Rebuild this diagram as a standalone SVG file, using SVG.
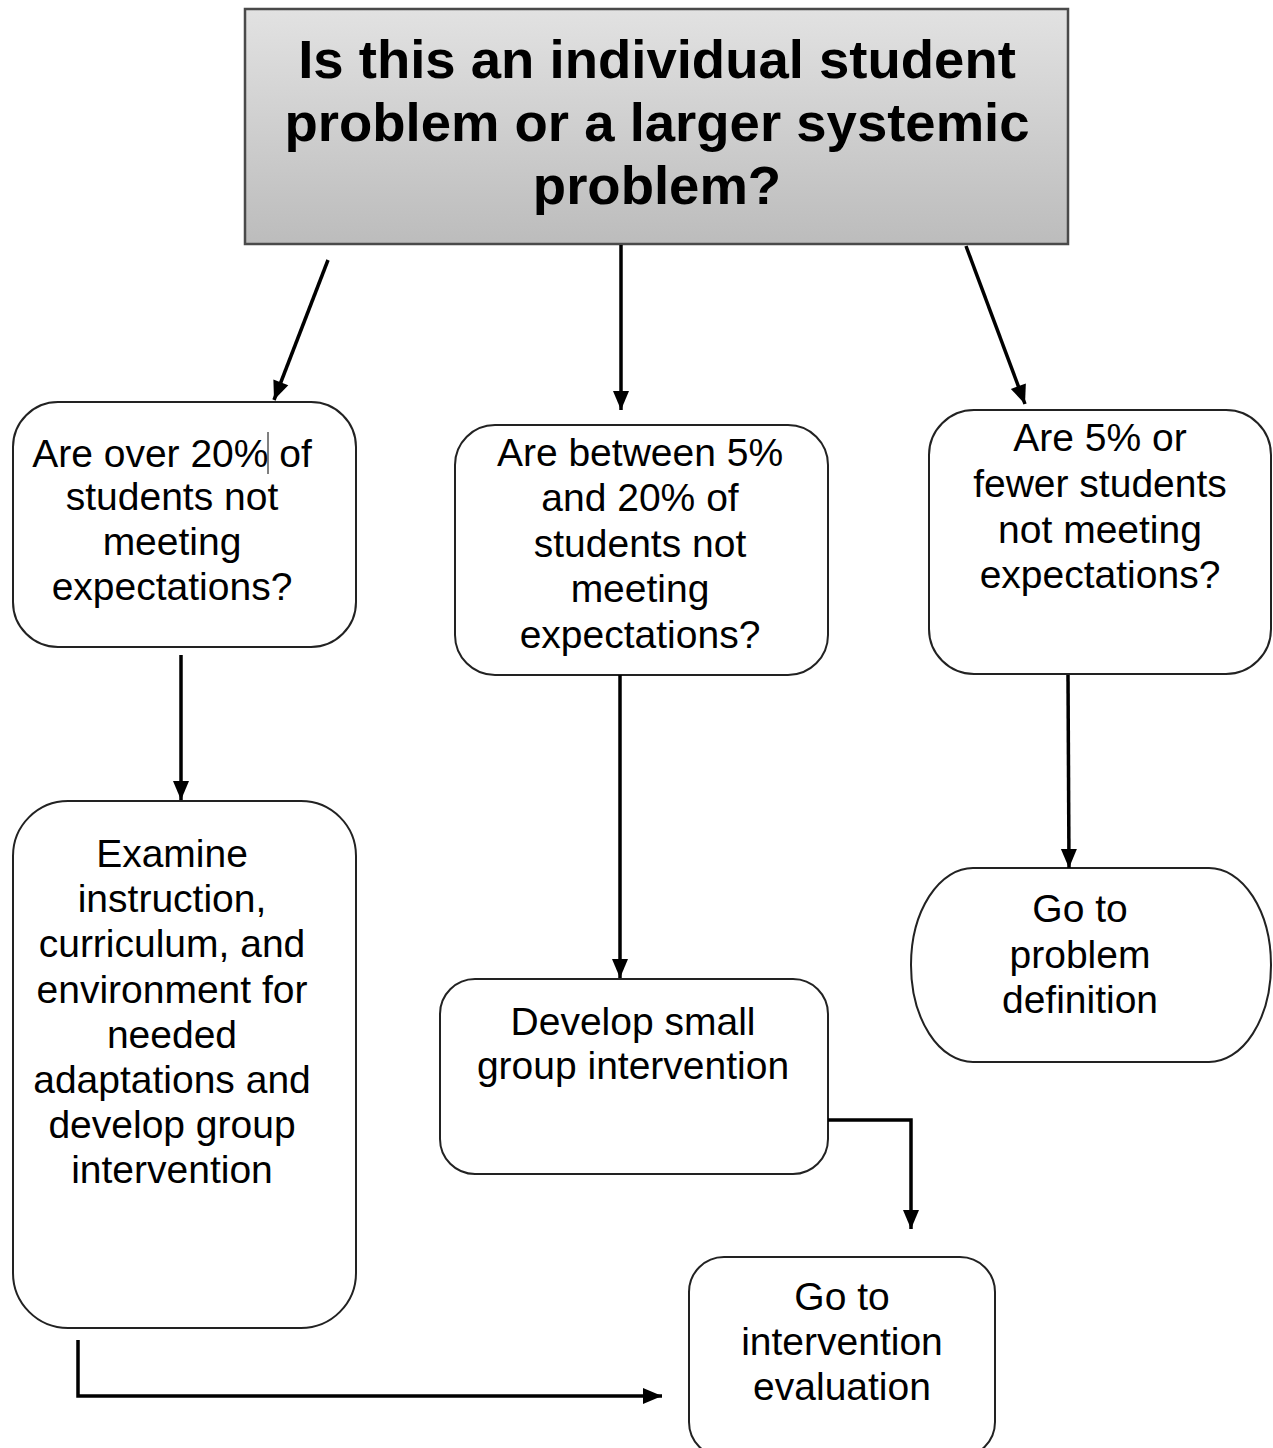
<svg xmlns="http://www.w3.org/2000/svg" width="1273" height="1448" viewBox="0 0 1273 1448">
<defs>
<linearGradient id="g" x1="0" y1="0" x2="0" y2="1">
<stop offset="0" stop-color="#e2e2e2"/>
<stop offset="1" stop-color="#bcbcbc"/>
</linearGradient>
<marker id="ah" markerUnits="userSpaceOnUse" markerWidth="22" markerHeight="18" refX="19" refY="8" orient="auto" overflow="visible">
<path d="M0,0 L19,8 L0,16 Z" fill="#000"/>
</marker>
<style>
.box{fill:#fff;stroke:#222;stroke-width:2}
.t{font-family:"Liberation Sans",Arial,sans-serif;font-size:39px;fill:#000;text-anchor:middle}
.title{font-family:"Liberation Sans",Arial,sans-serif;font-size:54.5px;font-weight:bold;fill:#000;text-anchor:middle}
.c{fill:none;stroke:#000;stroke-width:3.5;marker-end:url(#ah)}
</style>
</defs>
<rect width="1273" height="1448" fill="#fff"/>
<g id="top">
<rect x="245" y="9" width="823" height="235" fill="url(#g)" stroke="#4a4a4a" stroke-width="2.5"/>
<text class="title" x="657" y="78">Is this an individual student</text>
<text class="title" x="657" y="141">problem or a larger systemic</text>
<text class="title" x="657" y="204">problem?</text>
</g>
<g id="q-over20">
<rect class="box" x="13" y="402" width="343" height="245" rx="45"/>
<text class="t" x="172" y="467">Are over 20% of</text>
<text class="t" x="172" y="510">students not</text>
<text class="t" x="172" y="555">meeting</text>
<text class="t" x="172" y="600">expectations?</text>
<line x1="268" y1="432" x2="268" y2="474" stroke="#000" stroke-width="1"/>
</g>
<g id="q-between">
<rect class="box" x="455" y="425" width="373" height="250" rx="40"/>
<text class="t" x="640" y="466">Are between 5%</text>
<text class="t" x="640" y="511">and 20% of</text>
<text class="t" x="640" y="557">students not</text>
<text class="t" x="640" y="602">meeting</text>
<text class="t" x="640" y="648">expectations?</text>
</g>
<g id="q-fewer">
<rect class="box" x="929" y="410" width="342" height="264" rx="45"/>
<text class="t" x="1100" y="451">Are 5% or</text>
<text class="t" x="1100" y="497">fewer students</text>
<text class="t" x="1100" y="543">not meeting</text>
<text class="t" x="1100" y="588">expectations?</text>
</g>
<g id="a-examine">
<rect class="box" x="13" y="801" width="343" height="527" rx="55"/>
<text class="t" x="172" y="867">Examine</text>
<text class="t" x="172" y="912">instruction,</text>
<text class="t" x="172" y="957">curriculum, and</text>
<text class="t" x="172" y="1003">environment for</text>
<text class="t" x="172" y="1048">needed</text>
<text class="t" x="172" y="1093">adaptations and</text>
<text class="t" x="172" y="1138">develop group</text>
<text class="t" x="172" y="1183">intervention</text>
</g>
<g id="a-small">
<rect class="box" x="440" y="979" width="388" height="195" rx="35"/>
<text class="t" x="633" y="1035">Develop small</text>
<text class="t" x="633" y="1079">group intervention</text>
</g>
<g id="a-problem">
<rect class="box" x="911" y="868" width="360" height="194" rx="62" ry="97"/>
<text class="t" x="1080" y="922">Go to</text>
<text class="t" x="1080" y="968">problem</text>
<text class="t" x="1080" y="1013">definition</text>
</g>
<g id="a-eval">
<rect class="box" x="689" y="1257" width="306" height="200" rx="35"/>
<text class="t" x="842" y="1310">Go to</text>
<text class="t" x="842" y="1355">intervention</text>
<text class="t" x="842" y="1400">evaluation</text>
</g>
<g id="connectors">
<line class="c" x1="328" y1="260" x2="274" y2="400"/>
<line class="c" x1="621" y1="245" x2="621" y2="410"/>
<line class="c" x1="966" y1="246" x2="1025" y2="404"/>
<line class="c" x1="181" y1="655" x2="181" y2="800"/>
<line class="c" x1="620" y1="675" x2="620" y2="978"/>
<line class="c" x1="1068" y1="675" x2="1069" y2="868"/>
<polyline class="c" points="828,1120 911,1120 911,1229"/>
<polyline class="c" points="78,1340 78,1396 662,1396"/>
</g>
</svg>
